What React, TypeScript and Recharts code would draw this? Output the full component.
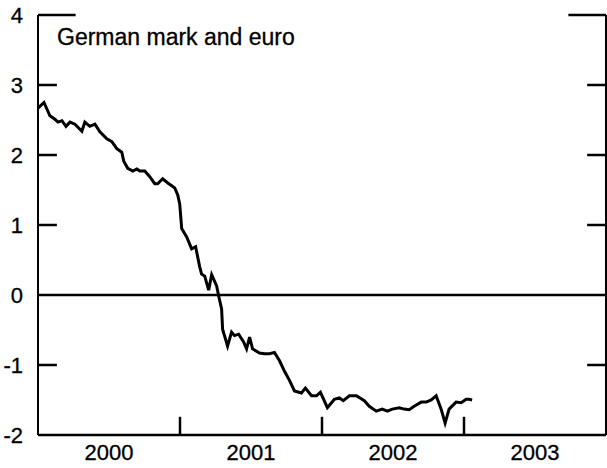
import React from "react";
import { LineChart, Line, XAxis, YAxis, ReferenceLine } from "recharts";

// Decimal years
const years = [
  2000.000, 2000.042, 2000.084, 2000.119, 2000.141, 2000.169, 2000.197, 2000.225, 2000.260, 2000.309,
  2000.330, 2000.365, 2000.401, 2000.436, 2000.485, 2000.520, 2000.555, 2000.590, 2000.604, 2000.632,
  2000.668, 2000.696, 2000.717, 2000.752, 2000.787, 2000.822, 2000.843, 2000.878, 2000.914, 2000.942,
  2000.963, 2000.984, 2000.998, 2001.012, 2001.047, 2001.082, 2001.110, 2001.138, 2001.152, 2001.174,
  2001.202, 2001.223, 2001.258, 2001.272, 2001.293, 2001.300, 2001.335, 2001.363, 2001.384, 2001.413,
  2001.448, 2001.469, 2001.490, 2001.511, 2001.560, 2001.595, 2001.630, 2001.665, 2001.701, 2001.736,
  2001.771, 2001.806, 2001.855, 2001.883, 2001.926, 2001.961, 2001.989, 2002.038, 2002.087, 2002.122,
  2002.150, 2002.193, 2002.242, 2002.298, 2002.333, 2002.382, 2002.424, 2002.460, 2002.495, 2002.544,
  2002.579, 2002.614, 2002.649, 2002.699, 2002.734, 2002.769, 2002.804, 2002.839, 2002.867, 2002.895,
  2002.944, 2002.980, 2003.015, 2003.036, 2003.057,
];

// Spread (percentage points)
const values = [
  2.67, 2.75, 2.56, 2.51, 2.47, 2.49, 2.41, 2.47, 2.44, 2.34,
  2.47, 2.41, 2.44, 2.33, 2.23, 2.19, 2.09, 2.04, 1.91, 1.81,
  1.77, 1.80, 1.77, 1.77, 1.69, 1.59, 1.59, 1.66, 1.60, 1.56,
  1.53, 1.43, 1.30, 0.95, 0.83, 0.66, 0.69, 0.41, 0.30, 0.27,
  0.07, 0.29, 0.13, -0.01, -0.20, -0.49, -0.73, -0.53, -0.58, -0.56,
  -0.67, -0.77, -0.60, -0.77, -0.83, -0.84, -0.84, -0.82, -0.94, -1.09,
  -1.22, -1.37, -1.40, -1.33, -1.44, -1.44, -1.39, -1.61, -1.49, -1.47,
  -1.51, -1.44, -1.44, -1.51, -1.59, -1.66, -1.63, -1.66, -1.63, -1.61,
  -1.63, -1.64, -1.59, -1.53, -1.53, -1.50, -1.44, -1.63, -1.83, -1.63,
  -1.53, -1.54, -1.49, -1.49, -1.50,
];

const yTicks = [-2, -1, 0, 1, 2, 3, 4];
const yearLabelPositions = [2000.5, 2001.5, 2002.5, 2003.5];
const yearBoundaries = [2001, 2002, 2003];
const shortTickLevels = [-1, 1, 2, 3];
const title = "German mark and euro";

const X_MIN = 2000;
const X_MAX = 2004;
const Y_MIN = -2;
const Y_MAX = 4;

const data = years.map((t, i) => ({ t, v: values[i] }));

const FONT = "'Liberation Sans', Arial, Helvetica, sans-serif";

export default function App() {
  const shortLen = 0.133;
  const longLen = 0.265;
  const xTickLen = 0.26;
  return (
    <div style={{ position: "absolute", left: 0, top: 0, width: 607, height: 468, background: "#fff" }}>
      <LineChart
        width={607}
        height={468}
        data={data}
        margin={{ top: 15, right: 1, left: 0, bottom: 0 }}
      >
        <XAxis
          type="number"
          dataKey="t"
          domain={[X_MIN, X_MAX]}
          ticks={yearLabelPositions}
          tickFormatter={(v: number) => String(Math.floor(v))}
          tickLine={false}
          axisLine={{ stroke: "#000", strokeWidth: 2.5 }}
          tick={{ fill: "#000", fontSize: 22, fontFamily: FONT, stroke: "#000", strokeWidth: 0.3 }}
          tickMargin={3}
          height={33}
          allowDataOverflow
        />
        <YAxis
          type="number"
          domain={[Y_MIN, Y_MAX]}
          ticks={yTicks}
          tickLine={false}
          axisLine={{ stroke: "#000", strokeWidth: 2 }}
          tick={{ fill: "#000", fontSize: 22, fontFamily: FONT, stroke: "#000", strokeWidth: 0.3 }}
          tickMargin={9}
          width={38}
          interval={0}
          allowDataOverflow
        />
        <ReferenceLine x={X_MAX} stroke="#000" strokeWidth={2} />
        <ReferenceLine y={0} stroke="#000" strokeWidth={2.5} />
        {shortTickLevels.map((lv) => (
          <ReferenceLine
            key={"l" + lv}
            segment={[{ x: X_MIN, y: lv }, { x: X_MIN + shortLen, y: lv }]}
            stroke="#000"
            strokeWidth={2.5}
          />
        ))}
        {shortTickLevels.map((lv) => (
          <ReferenceLine
            key={"r" + lv}
            segment={[{ x: X_MAX - shortLen, y: lv }, { x: X_MAX, y: lv }]}
            stroke="#000"
            strokeWidth={2.5}
          />
        ))}
        <ReferenceLine
          segment={[{ x: X_MIN, y: Y_MAX }, { x: X_MIN + longLen, y: Y_MAX }]}
          stroke="#000"
          strokeWidth={2.5}
        />
        <ReferenceLine
          segment={[{ x: X_MAX - longLen, y: Y_MAX }, { x: X_MAX, y: Y_MAX }]}
          stroke="#000"
          strokeWidth={2.5}
        />
        {yearBoundaries.map((yr) => (
          <ReferenceLine
            key={"x" + yr}
            segment={[{ x: yr, y: Y_MIN }, { x: yr, y: Y_MIN + xTickLen }]}
            stroke="#000"
            strokeWidth={2.5}
          />
        ))}
        <Line
          type="linear"
          dataKey="v"
          stroke="#000"
          strokeWidth={3}
          dot={false}
          isAnimationActive={false}
        />
      </LineChart>
      <div
        style={{
          position: "absolute",
          left: 57,
          top: 26,
          fontFamily: FONT,
          fontSize: 23,
          lineHeight: "23px",
          color: "#000",
          whiteSpace: "nowrap",
          WebkitTextStroke: "0.3px #000",
        }}
      >
        {title}
      </div>
    </div>
  );
}
